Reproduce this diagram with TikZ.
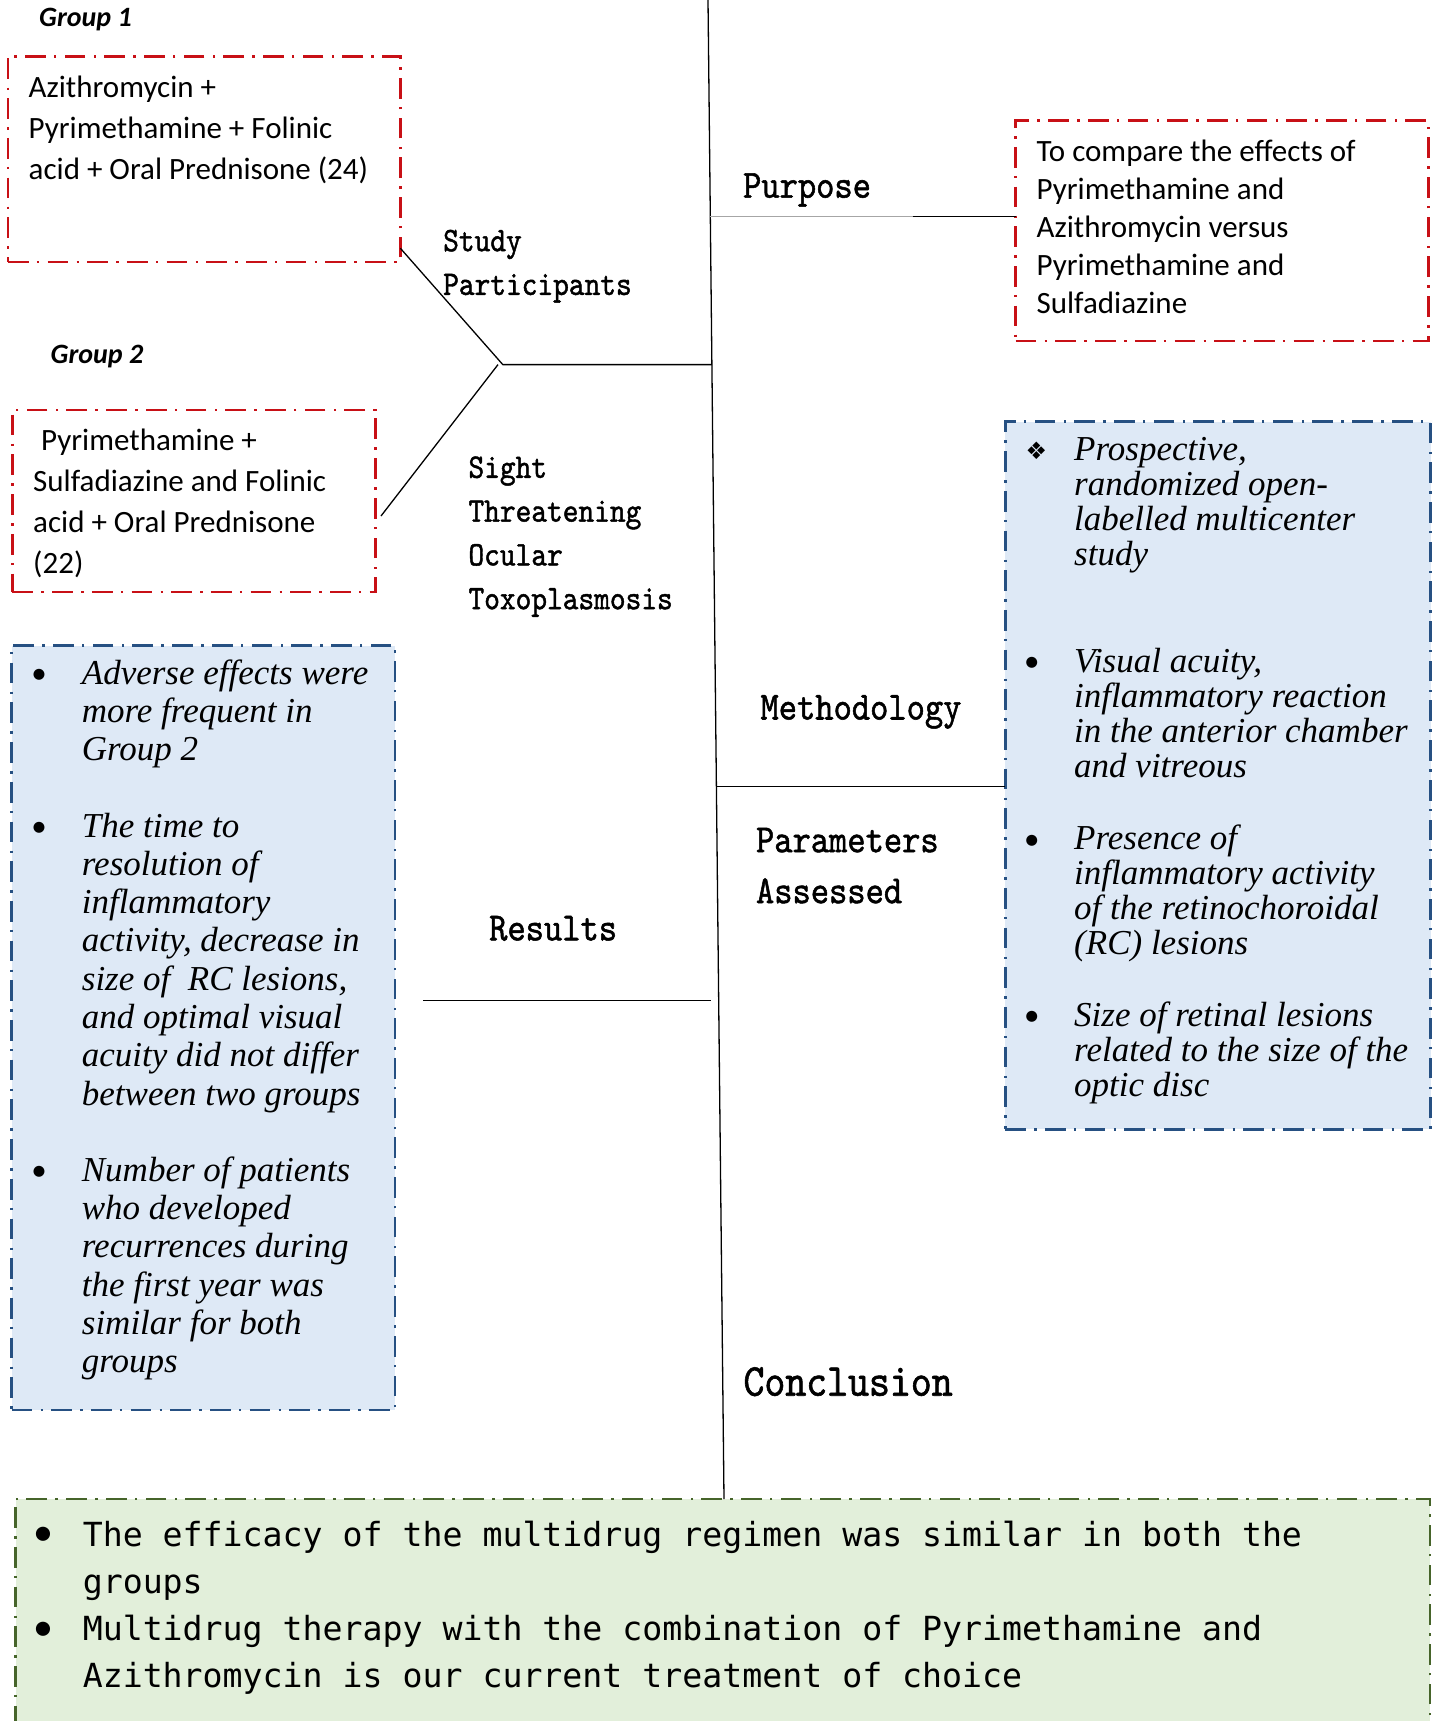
\documentclass[tikz,border=0pt]{standalone}
\usepackage{fontspec}
\setmainfont{Carlito}
\newfontfamily\hdfont{lmmono10-regular.otf}[FakeStretch=0.87,FakeBold=1.3]
\newfontfamily\itfont{Liberation Serif}
\newfontfamily\cofont{DejaVu Sans Mono}
\newfontfamily\dvfont{DejaVu Sans}
\newcommand{\myfs}[2]{\fontsize{#1pt}{#2pt}\selectfont}
\newcommand{\fl}[1]{\rule{0pt}{#1pt}}
\definecolor{redb}{RGB}{200,16,22}
\definecolor{blueb}{RGB}{38,80,130}
\definecolor{bluef}{RGB}{222,233,246}
\definecolor{greenb}{RGB}{70,100,42}
\definecolor{greenf}{RGB}{226,239,218}
\tikzset{
 dd/.style={line width=2.6pt, dash pattern=on 20.7pt off 8.3pt on 2.4pt off 8.3pt},
 boxn/.style={dd, anchor=north west, inner sep=0pt, outer sep=0pt, rectangle},
 redbox/.style={boxn, draw=redb},
 bluebox/.style={boxn, draw=blueb, fill=bluef},
 greenbox/.style={boxn, draw=greenb, fill=greenf},
 txt/.style={anchor=north west, inner sep=0pt, align=left},
 one/.style={anchor=base west, inner sep=0pt},
 conn/.style={draw=black, line width=1.3pt},
 bul/.style={inner sep=0pt, anchor=center},
 cal/.style={font=\myfs{31}{41}},
 hds/.style={font=\hdfont\myfs{34.4}{43.7}},
 hdm/.style={font=\hdfont\myfs{40}{51}},
 itm/.style={font=\itfont\itshape\myfs{35}{35}},
 itr/.style={font=\itfont\itshape\myfs{35}{38.3}},
}
\begin{document}
\begin{tikzpicture}[x=1pt,y=-1pt]
\useasboundingbox (0,0) rectangle (1439,1721);
\clip (0,0) rectangle (1439,1721);
% boxes
\node[redbox, minimum width=392.6pt, minimum height=205.3pt] (g1box) at (7.8,56.5) {};
\node[redbox, minimum width=363.2pt, minimum height=182pt] (g2box) at (12.4,410) {};
\node[redbox, minimum width=412.7pt, minimum height=220.2pt] (pbox) at (1015.7,120.6) {};
\node[bluebox, minimum width=425.5pt, minimum height=707.6pt] (mbox) at (1005.2,421.7) {};
\node[bluebox, minimum width=383.4pt, minimum height=764.3pt] (rbox) at (11.5,645.5) {};
\node[greenbox, minimum width=1414.2pt, minimum height=260pt] (cbox) at (15.6,1499) {};
% spine and branches
\coordinate (spT) at (708,0);
\coordinate (spB) at (cbox.north -| 724,0);
\draw[conn] (spT) -- (spB);
\coordinate (pj) at (710.3,216.7);
\coordinate (pm) at (912.6,216.7);
\draw[conn, draw=black!35] (pj) -- (pm);
\draw[conn] (pm) -- (pbox.west |- pm);
\coordinate (sj) at (711.9,364.6);
\coordinate (j1) at (502.8,364.6);
\coordinate (j2) at (498,364.6);
\coordinate (d1) at (400.4,248.3);
\coordinate (d2) at (381,516);
\draw[conn] (sj) -- (j1) -- (d1);
\draw[conn] (j2) -- (d2);
\coordinate (mj) at (716.4,786.4);
\draw[conn] (mj) -- (mbox.west |- mj);
\coordinate (rl) at (423.3,1000.6);
\coordinate (rj) at (710.7,1000.6);
\draw[conn] (rl) -- (rj);
% group labels
\node[one, font=\bfseries\itshape\myfs{28}{34}] (g1lab) at (39,26.9) {Group 1};
\node[one, font=\bfseries\itshape\myfs{28}{34}] (g2lab) at (50.5,363) {Group 2};
% red box texts
\node[txt, cal] (g1txt) at (28.5,70.55) {\fl{26.35}Azithromycin +\\Pyrimethamine + Folinic\\acid + Oral Prednisone (24)};
\node[txt, cal, font=\myfs{31}{41.2}] (g2txt) at (33,423.65) {\fl{26.35}\hspace*{8pt}Pyrimethamine +\\Sulfadiazine and Folinic\\acid + Oral Prednisone\\(22)};
\node[txt, cal, font=\myfs{31}{38.1}] (ptxt) at (1036.4,134.95) {\fl{26.35}To compare the effects of\\Pyrimethamine and\\Azithromycin versus\\Pyrimethamine and\\Sulfadiazine};
% headings
\node[txt, hds] (study) at (443,221.76) {\fl{29.24}Study\\Participants};
\node[txt, hds, font=\hdfont\myfs{34.4}{43.8}] (sight) at (468.3,448.36) {\fl{29.24}Sight\\Threatening\\Ocular\\Toxoplasmosis};
\node[one, hdm] (purpose) at (742.9,197.7) {Purpose};
\node[one, hdm] (method) at (760.3,719.5) {Methodology};
\node[txt, hdm] (param) at (755.8,818) {\fl{34}Parameters\\Assessed};
\node[one, hdm] (results) at (489,940.4) {Results};
\node[one, font=\hdfont\myfs{45.8}{50}] (concl) at (743.3,1395.7) {Conclusion};
% methodology items
\node[bul, font=\dvfont\myfs{24}{24}] (mb1) at (1036.4,450.8) {❖};
\node[txt, itm] (m1) at (1074,430.25) {\fl{29.75}Prospective,\\randomized open-\\labelled multicenter\\study};
\node[bul, font=\myfs{31}{31}] (mb2) at (1031.8,664.5) {•};
\node[txt, itm] (m2) at (1074,642.85) {\fl{29.75}Visual acuity,\\inflammatory reaction\\in the anterior chamber\\and vitreous};
\node[bul, font=\myfs{31}{31}] (mb3) at (1031.8,842.4) {•};
\node[txt, itm] (m3) at (1074,819.75) {\fl{29.75}Presence of\\inflammatory activity\\of the retinochoroidal\\(RC) lesions};
\node[bul, font=\myfs{31}{31}] (mb4) at (1031.8,1018.4) {•};
\node[txt, itm] (m4) at (1074,996.75) {\fl{29.75}Size of retinal lesions\\related to the size of the\\optic disc};
% results items
\node[bul, font=\myfs{31}{31}] (rb1) at (39,676) {•};
\node[txt, itr] (r1) at (81.7,654.05) {\fl{29.75}Adverse effects were\\more frequent in\\Group 2};
\node[bul, font=\myfs{31}{31}] (rb2) at (39,829) {•};
\node[txt, itr] (r2) at (81.7,807.05) {\fl{29.75}The time to\\resolution of\\inflammatory\\activity, decrease in\\size of \ RC lesions,\\and optimal visual\\acuity did not differ\\between two groups};
\node[bul, font=\myfs{31}{31}] (rb3) at (39,1173.6) {•};
\node[txt, itr] (r3) at (81.7,1151.25) {\fl{29.75}Number of patients\\who developed\\recurrences during\\the first year was\\similar for both\\groups};
% conclusion items
\node[bul, font=\myfs{40}{40}] (cb1) at (43,1536.7) {•};
\node[txt, font=\cofont\myfs{33.2}{46.3}] (c1) at (82.6,1518.5) {\fl{28.2}The efficacy of the multidrug regimen was similar in both the\\groups};
\node[bul, font=\myfs{40}{40}] (cb2) at (43,1631) {•};
\node[txt, font=\cofont\myfs{33.2}{46.6}] (c2) at (82.6,1612.5) {\fl{28.2}Multidrug therapy with the combination of Pyrimethamine and\\Azithromycin is our current treatment of choice};
\end{tikzpicture}
\end{document}
